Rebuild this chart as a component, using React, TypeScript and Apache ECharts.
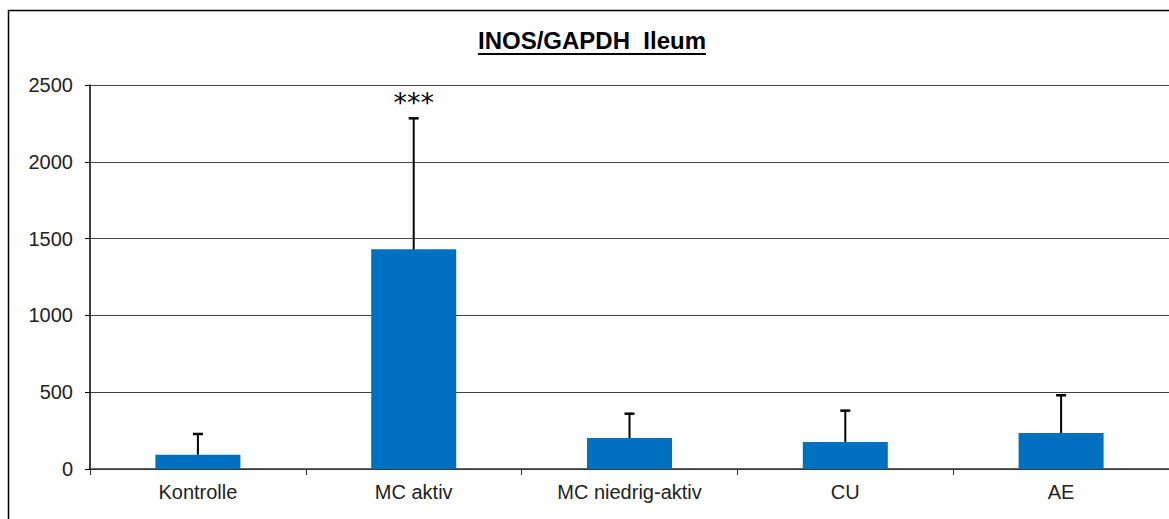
import React, { useEffect, useRef } from "react";
import * as echarts from "echarts";

const categories = ["Kontrolle", "MC aktiv", "MC niedrig-aktiv", "CU", "AE"];
const means = [93, 1430, 202, 176, 234];
const errors = [135, 853, 158, 204, 246];
const significance = ["", "***", "", "", ""];
const yTicks = { min: 0, max: 2500, interval: 500 };
const titleText = "INOS/GAPDH  Ileum";

export default function App() {
  const ref = useRef<HTMLDivElement>(null);
  useEffect(() => {
    if (!ref.current) return;
    const chart = echarts.init(ref.current, undefined, { renderer: "svg" });
    const font = "'Liberation Sans', Arial, sans-serif";
    chart.setOption({
      animation: false,
      backgroundColor: "#ffffff",
      grid: { left: 90, right: 0, top: 85, bottom: 50 },
      graphic: [
        {
          type: "rect",
          shape: { x: 8.5, y: 10.5, width: 1200, height: 600 },
          style: { fill: "none", stroke: "#000", lineWidth: 1.5 },
          silent: true,
        },
        {
          type: "text",
          x: 592,
          y: 40,
          style: {
            text: titleText,
            fontFamily: font,
            fontWeight: "bold",
            fontSize: 24,
            fill: "#000",
            align: "center",
            verticalAlign: "middle",
          },
        },
        {
          type: "line",
          shape: { x1: 478, y1: 54, x2: 706, y2: 54 },
          style: { stroke: "#000", lineWidth: 2 },
        },
      ],
      xAxis: {
        type: "category",
        data: categories,
        boundaryGap: true,
        axisLine: { show: true, lineStyle: { color: "#333", width: 1.5 } },
        axisTick: { show: true, length: 6, lineStyle: { color: "#333" } },
        axisLabel: { fontFamily: font, fontSize: 20, color: "#222", margin: 13 },
      },
      yAxis: {
        type: "value",
        min: yTicks.min,
        max: yTicks.max,
        interval: yTicks.interval,
        axisLine: { show: true, lineStyle: { color: "#000", width: 1.5 } },
        axisTick: { show: true, length: 5, inside: false, lineStyle: { color: "#000" } },
        axisLabel: {
          fontFamily: font,
          fontSize: 20,
          color: "#222",
          margin: 17,
          formatter: (v: number) => String(v),
        },
        splitLine: { show: true, lineStyle: { color: "#444", width: 1 } },
      },
      series: [
        {
          type: "bar",
          data: means,
          barWidth: 85,
          itemStyle: { color: "#0070C0" },
          z: 2,
        },
        {
          type: "custom",
          z: 3,
          data: categories.map((_, i) => [i, means[i], means[i] + errors[i]]),
          renderItem: (params: any, api: any) => {
            const i = api.value(0);
            const m = api.value(1);
            const t = api.value(2);
            const p0 = api.coord([i, m]);
            const p1 = api.coord([i, t]);
            const hw = 5;
            const children: any[] = [
              {
                type: "line",
                shape: { x1: p0[0], y1: p0[1], x2: p1[0], y2: p1[1] },
                style: { stroke: "#000", lineWidth: 2 },
              },
              {
                type: "line",
                shape: { x1: p1[0] - hw, y1: p1[1], x2: p1[0] + hw, y2: p1[1] },
                style: { stroke: "#000", lineWidth: 2.5 },
              },
            ];
            const sig = significance[params.dataIndex];
            if (sig) {
              children.push({
                type: "text",
                x: p1[0],
                y: p1[1] - 16,
                style: {
                  text: sig,
                  fontFamily: "'DejaVu Sans', sans-serif",
                  fontSize: 27,
                  fill: "#000",
                  align: "center",
                  verticalAlign: "middle",
                },
              });
            }
            return { type: "group", children };
          },
        },
      ],
    });
    return () => chart.dispose();
  }, []);
  return (
    <div
      ref={ref}
      style={{ position: "fixed", left: 0, top: 0, width: 1169, height: 519 }}
    />
  );
}
